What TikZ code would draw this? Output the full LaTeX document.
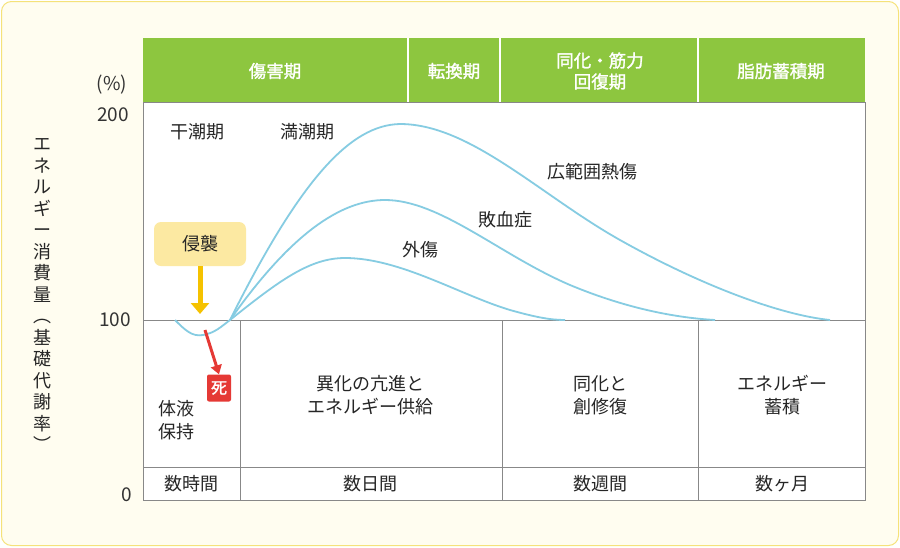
\documentclass[tikz,border=0pt]{standalone}
\usepackage{fontspec}
\setmainfont{Noto Sans CJK JP}
\newfontfamily\jpb{Noto Sans CJK JP}[FakeBold=1.5]
\usetikzlibrary{arrows.meta}
\definecolor{hdr}{HTML}{8DC63F}
\definecolor{crv}{HTML}{86CCE2}
\definecolor{frm}{HTML}{888888}
\definecolor{bgc}{HTML}{FFFDF0}
\definecolor{bdr}{HTML}{F5E27A}
\definecolor{inv}{HTML}{FCE9A2}
\definecolor{arr}{HTML}{F5C200}
\definecolor{rd}{HTML}{E53935}
\tikzset{
 hd/.style={text=white,font=\jpb\fontsize{17.5}{21}\selectfont,align=center},
 tx/.style={font=\fontsize{18}{23}\selectfont,align=center,text=black!85},
 ax/.style={font=\fontsize{19}{22}\selectfont,text=black!80},
 cv/.style={crv,line width=1.8pt},
 fr/.style={frm,line width=1pt}
}
\begin{document}
\begin{tikzpicture}[x=1pt,y=-1pt]
\useasboundingbox (0,0) rectangle (900,547);
\draw[bdr,fill=bgc,line width=1pt,rounded corners=10pt] (1.5,1.5) rectangle (898.5,545.5);
% header
\fill[hdr] (143,38) rectangle (865,102);
\foreach \x in {408,500,698} \draw[white,line width=2pt] (\x,38) -- (\x,102);
\node[hd] (h1) at (275,71) {傷害期};
\node[hd] (h2) at (454,71) {転換期};
\node[hd] (h3) at (600,71) {同化・筋力\\回復期};
\node[hd] (h4) at (781,71) {脂肪蓄積期};
% plot frame
\fill[white] (143,102) rectangle (865,500);
\draw[fr] (143,102) rectangle (865,500);
\draw[fr] (143,320) -- (865,320);
\draw[fr] (143,467) -- (865,467);
\foreach \x in {240,502,698} \draw[fr] (\x,320) -- (\x,500);
% axis
\node[ax] (pc) at (112,85) {(\%)};
\node[ax] (a200) at (113,115) {200};
\node[ax] (a100) at (115,320) {100};
\node[ax] (a0) at (127,495) {0};
\node[font=\fontsize{18}{21.5}\selectfont,text=black!85,align=center] (yl) at (42,295)
 {エ\\ネ\\ル\\ギ\\ー\\消\\費\\量\\︵\\基\\礎\\代\\謝\\率\\︶};
% curves
\coordinate (c0) at (175,320);
\coordinate (c1) at (230,320);
\draw[cv] (c0) .. controls (185,330) and (192,337) .. (203,335) .. controls (215,333) and (222,326) .. (c1);
\draw[cv] (c1) .. controls (300,180) and (350,125) .. (400,124) .. controls (470,124) and (540,195) .. (620,240) .. controls (700,285) and (780,315) .. (830,320);
\draw[cv] (c1) .. controls (290,235) and (340,200) .. (385,200) .. controls (440,200) and (500,255) .. (570,285) .. controls (630,310) and (680,318) .. (715,320);
\draw[cv] (c1) .. controls (280,280) and (310,258) .. (345,258) .. controls (400,258) and (460,295) .. (510,310) .. controls (535,317) and (550,320) .. (565,320);
% labels
\node[tx] (l1) at (197,132) {干潮期};
\node[tx] (l2) at (307,132) {満潮期};
\node[tx] (l3) at (592,172) {広範囲熱傷};
\node[tx] (l4) at (505,220) {敗血症};
\node[tx] (l5) at (420,250) {外傷};
% invasion
\node[tx,fill=inv,rounded corners=7pt,minimum width=92pt,minimum height=44pt] (inv) at (200,244) {侵襲};
\coordinate (invE) at (200,314);
\draw[arr,line width=5pt,-{Triangle[length=11pt,width=18pt]}] (inv.south) -- (invE);
\node[fill=rd,text=white,font=\jpb\fontsize{16}{18}\selectfont,inner sep=2pt,minimum width=24pt,minimum height=27pt,rounded corners=2pt] (si) at (219,388) {死};
\coordinate (rs) at (205,330);
\draw[rd,line width=3pt,-{Triangle[length=9pt,width=11pt]}] (rs) -- (si.north);
% bottom texts
\node[tx,align=left] (b1) at (176,420) {体液\\保持};
\node[tx] (b2) at (370,395) {異化の亢進と\\エネルギー供給};
\node[tx] (b3) at (600,395) {同化と\\創修復};
\node[tx] (b4) at (782,395) {エネルギー\\蓄積};
\node[tx] (t1) at (191,484) {数時間};
\node[tx] (t2) at (370,484) {数日間};
\node[tx] (t3) at (600,484) {数週間};
\node[tx] (t4) at (782,484) {数ヶ月};
\end{tikzpicture}
\end{document}
